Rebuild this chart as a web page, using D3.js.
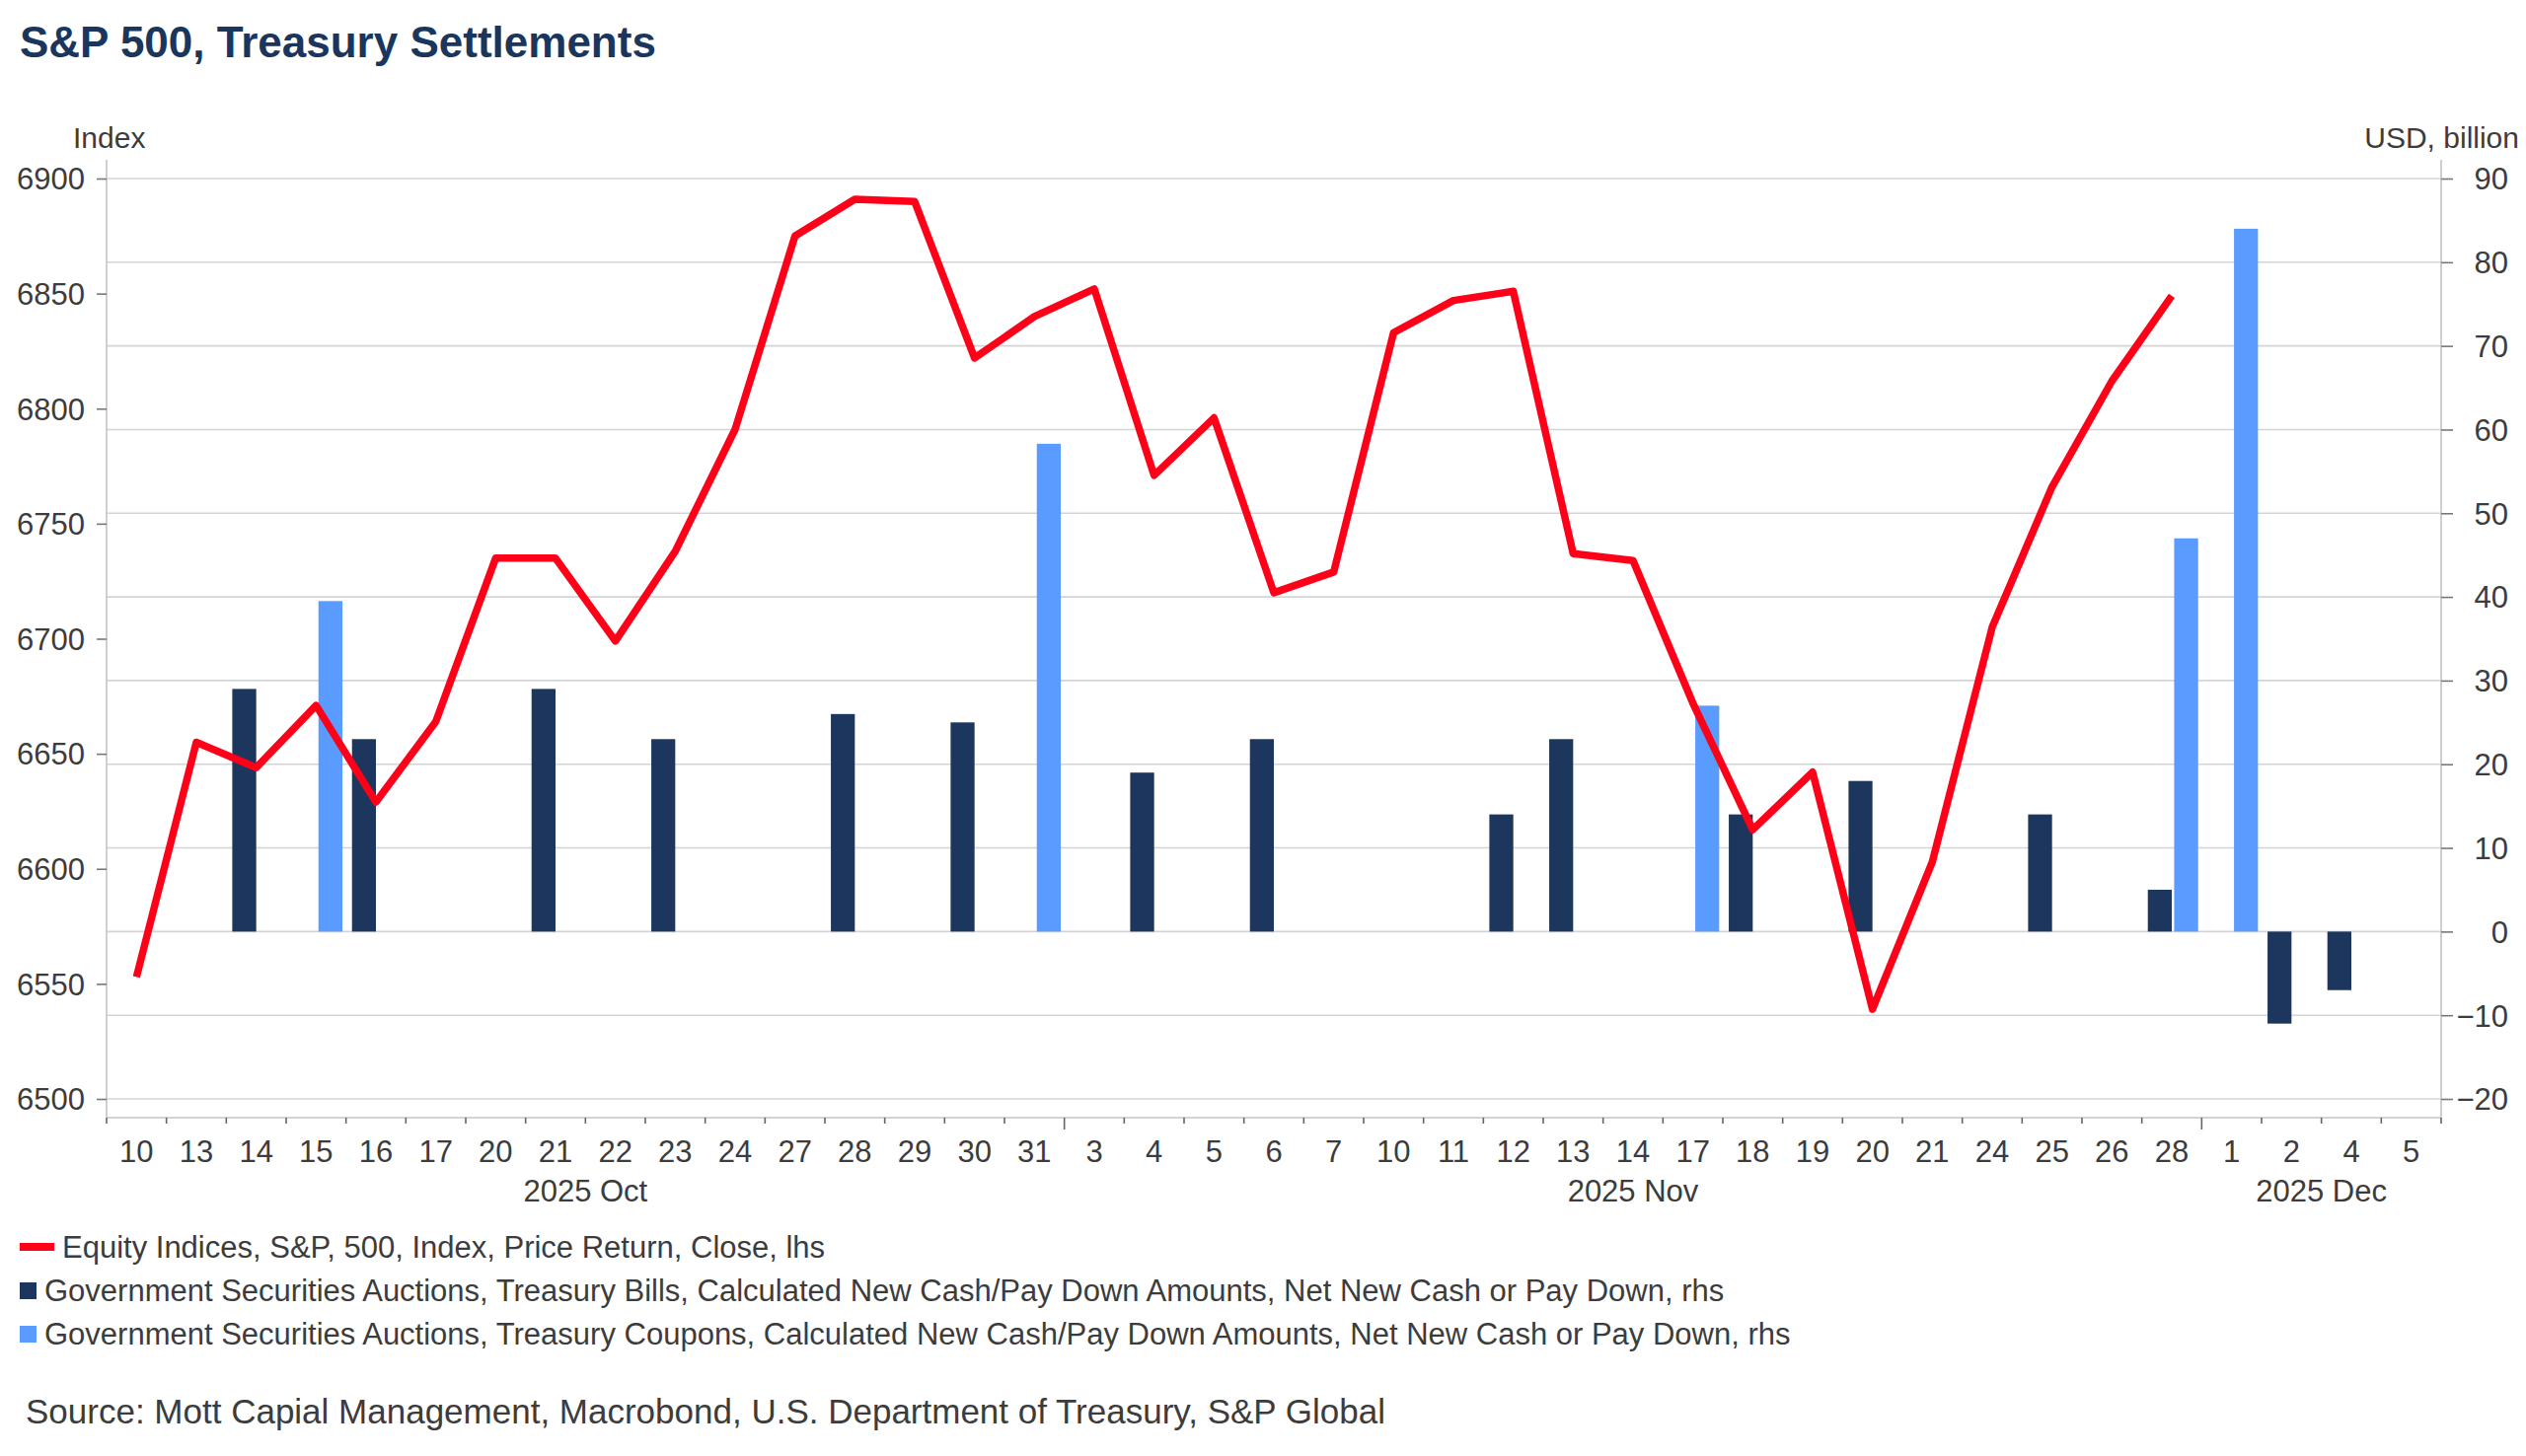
<!DOCTYPE html>
<html>
<head>
<meta charset="utf-8">
<script src="https://cdn.jsdelivr.net/npm/d3@7"></script>
<style>
  body { margin: 0; background: #fff; }
  text { font-family: "Liberation Sans", Arial, Helvetica, sans-serif; fill: #3c3c3c; }
</style>
</head>
<body>
<svg id="chart"></svg>
<script>
// trading days shown on the x axis (Dec 3 is absent in the source)
const dates = [
  '2025-10-10','2025-10-13','2025-10-14','2025-10-15','2025-10-16','2025-10-17',
  '2025-10-20','2025-10-21','2025-10-22','2025-10-23','2025-10-24','2025-10-27',
  '2025-10-28','2025-10-29','2025-10-30','2025-10-31','2025-11-03','2025-11-04',
  '2025-11-05','2025-11-06','2025-11-07','2025-11-10','2025-11-11','2025-11-12',
  '2025-11-13','2025-11-14','2025-11-17','2025-11-18','2025-11-19','2025-11-20',
  '2025-11-21','2025-11-24','2025-11-25','2025-11-26','2025-11-28','2025-12-01',
  '2025-12-02','2025-12-04','2025-12-05'
];

// S&P 500 close, lhs (no values after Nov 28)
const spx = [
  6553, 6655, 6644, 6671, 6629, 6664,
  6735, 6735, 6699, 6738, 6791, 6875,
  6891, 6890, 6822, 6840, 6852, 6771,
  6796, 6720, 6729, 6833, 6847, 6851,
  6737, 6734, 6672, 6617, 6642, 6539,
  6603, 6705, 6766, 6812, 6849, null,
  null, null, null
];

// Treasury bills net new cash, USD bn, rhs
const bills = [
  null, null, 29, null, 23, null,
  null, 29, null, 23, null, null,
  26, null, 25, null, null, 19,
  null, 23, null, null, null, 14,
  23, null, null, 14, null, 18,
  null, null, 14, null, 5, null,
  -11, -7, null
];

// Treasury coupons net new cash, USD bn, rhs
const coupons = [
  null, null, null, 39.5, null, null,
  null, null, null, null, null, null,
  null, null, null, 58.3, null, null,
  null, null, null, null, null, null,
  null, null, 27, null, null, null,
  null, null, null, null, 47, 84,
  null, null, null
];

const leftTicks = [6500, 6550, 6600, 6650, 6700, 6750, 6800, 6850, 6900];
const rightTicks = [-20, -10, 0, 10, 20, 30, 40, 50, 60, 70, 80, 90];

const legendItems = [
  'Equity Indices, S&P, 500, Index, Price Return, Close, lhs',
  'Government Securities Auctions, Treasury Bills, Calculated New Cash/Pay Down Amounts, Net New Cash or Pay Down, rhs',
  'Government Securities Auctions, Treasury Coupons, Calculated New Cash/Pay Down Amounts, Net New Cash or Pay Down, rhs'
];

(function() {
  const width = 2560, height = 1476;
  const left = 108, right = 2474;
  const gridTop = 181, gridBottom = 1114;
  const frameTop = 162, frameBottom = 1133;

  const red = '#ff0019', navy = '#1d365d', sky = '#5a9bff';
  const gridColor = '#d4d4d4', axisColor = '#c4c4c4';

  const svg = d3.select('#chart').attr('width', width).attr('height', height);

  const x = d3.scaleBand().domain(dates).range([left, right]).padding(0);
  const bw = x.bandwidth();
  // two slots per day: bills left of centre, coupons just right of it
  const x1 = d3.scaleBand().domain(['bills', 'coupons']).range([bw * 0.1, bw * 0.94]).paddingInner(1 / 11);

  const yL = d3.scaleLinear().domain([6500, 6900]).range([gridBottom, gridTop]);
  const yR = d3.scaleLinear().domain([-20, 90]).range([gridBottom, gridTop]);

  // title
  svg.append('text')
    .attr('x', 20).attr('y', 58)
    .style('font-size', '44px').style('font-weight', 700)
    .style('fill', '#1b365d')
    .text('S&P 500, Treasury Settlements');

  // gridlines follow the right axis
  svg.append('g').selectAll('line')
    .data(rightTicks)
    .enter().append('line')
    .attr('x1', left).attr('x2', right)
    .attr('y1', d => yR(d)).attr('y2', d => yR(d))
    .attr('stroke', gridColor).attr('stroke-width', 1.6);

  // frame lines
  const frame = svg.append('g').attr('stroke', axisColor).attr('stroke-width', 1.6);
  frame.append('line').attr('x1', left).attr('x2', left).attr('y1', frameTop).attr('y2', frameBottom);
  frame.append('line').attr('x1', right).attr('x2', right).attr('y1', frameTop).attr('y2', frameBottom);
  frame.append('line').attr('x1', left).attr('x2', right).attr('y1', frameBottom).attr('y2', frameBottom);

  // left axis
  const gl = svg.append('g')
    .attr('transform', `translate(${left},0)`)
    .call(d3.axisLeft(yL).tickValues(leftTicks).tickFormat(d3.format('d')).tickSize(10).tickPadding(12));
  gl.select('.domain').remove();
  gl.selectAll('.tick line').attr('stroke', '#777').attr('stroke-width', 1.6);
  gl.selectAll('.tick text').style('font-size', '31px').attr('fill', '#3c3c3c').attr('dy', '0.35em');

  // right axis
  const gr = svg.append('g')
    .attr('transform', `translate(${right},0)`)
    .call(d3.axisRight(yR).tickValues(rightTicks).tickSize(12));
  gr.select('.domain').remove();
  gr.selectAll('.tick line').attr('stroke', '#777').attr('stroke-width', 1.6);
  gr.selectAll('.tick text')
    .style('font-size', '31px').attr('fill', '#3c3c3c')
    .attr('x', 68).attr('text-anchor', 'end').attr('dy', '0.35em');

  // unit labels
  svg.append('text').attr('x', 74).attr('y', 150).style('font-size', '30px').text('Index');
  svg.append('text').attr('x', 2553).attr('y', 150).attr('text-anchor', 'end')
    .style('font-size', '30px').text('USD, billion');

  // x axis: ticks on band boundaries, longer at month changes
  const month = d => d.slice(0, 7);
  const boundaries = dates.map((d, i) => ({
    pos: x(d),
    long: i > 0 && month(d) !== month(dates[i - 1])
  }));
  boundaries.push({ pos: right, long: false });

  svg.append('g').selectAll('line')
    .data(boundaries)
    .enter().append('line')
    .attr('x1', d => d.pos).attr('x2', d => d.pos)
    .attr('y1', frameBottom).attr('y2', d => frameBottom + (d.long ? 12 : 6))
    .attr('stroke', '#666').attr('stroke-width', 1.6);

  svg.append('g').selectAll('text')
    .data(dates)
    .enter().append('text')
    .attr('x', d => x(d) + bw / 2)
    .attr('y', 1178)
    .attr('text-anchor', 'middle')
    .style('font-size', '31px')
    .text(d => +d.slice(8));

  const monthNames = { '10': 'Oct', '11': 'Nov', '12': 'Dec' };
  const monthGroups = d3.groups(dates, month).map(([m, ds]) => ({
    label: m.slice(0, 4) + ' ' + monthNames[m.slice(5)],
    mid: (x(ds[0]) + x(ds[ds.length - 1]) + bw) / 2
  }));

  svg.append('g').selectAll('text')
    .data(monthGroups)
    .enter().append('text')
    .attr('x', d => d.mid)
    .attr('y', 1218)
    .attr('text-anchor', 'middle')
    .style('font-size', '31px')
    .text(d => d.label);

  // bars
  const barData = [];
  dates.forEach((d, i) => {
    if (bills[i] != null) barData.push({ date: d, key: 'bills', value: bills[i] });
    if (coupons[i] != null) barData.push({ date: d, key: 'coupons', value: coupons[i] });
  });

  svg.append('g').selectAll('rect')
    .data(barData)
    .enter().append('rect')
    .attr('x', d => x(d.date) + x1(d.key))
    .attr('width', x1.bandwidth())
    .attr('y', d => yR(Math.max(0, d.value)))
    .attr('height', d => Math.abs(yR(d.value) - yR(0)))
    .attr('fill', d => d.key === 'bills' ? navy : sky);

  // S&P line
  const line = d3.line()
    .defined(d => d.v != null)
    .x(d => x(d.date) + bw / 2)
    .y(d => yL(d.v));

  svg.append('path')
    .datum(dates.map((d, i) => ({ date: d, v: spx[i] })))
    .attr('d', line)
    .attr('fill', 'none')
    .attr('stroke', red)
    .attr('stroke-width', 7.5)
    .attr('stroke-linejoin', 'round');

  // legend
  const lg = svg.append('g');
  const rowY = [1275, 1319, 1363];
  lg.append('rect').attr('x', 20).attr('y', 1260).attr('width', 35).attr('height', 8).attr('fill', red);
  lg.append('rect').attr('x', 20).attr('y', 1300).attr('width', 17).attr('height', 17).attr('fill', navy);
  lg.append('rect').attr('x', 20).attr('y', 1344).attr('width', 17).attr('height', 17).attr('fill', sky);

  lg.selectAll('text')
    .data(legendItems)
    .enter().append('text')
    .attr('x', (d, i) => i === 0 ? 63 : 45)
    .attr('y', (d, i) => rowY[i])
    .style('font-size', '31px')
    .text(d => d);

  svg.append('text')
    .attr('x', 26).attr('y', 1443)
    .style('font-size', '35px')
    .text('Source: Mott Capial Management, Macrobond, U.S. Department of Treasury, S&P Global');
})();
</script>
</body>
</html>
